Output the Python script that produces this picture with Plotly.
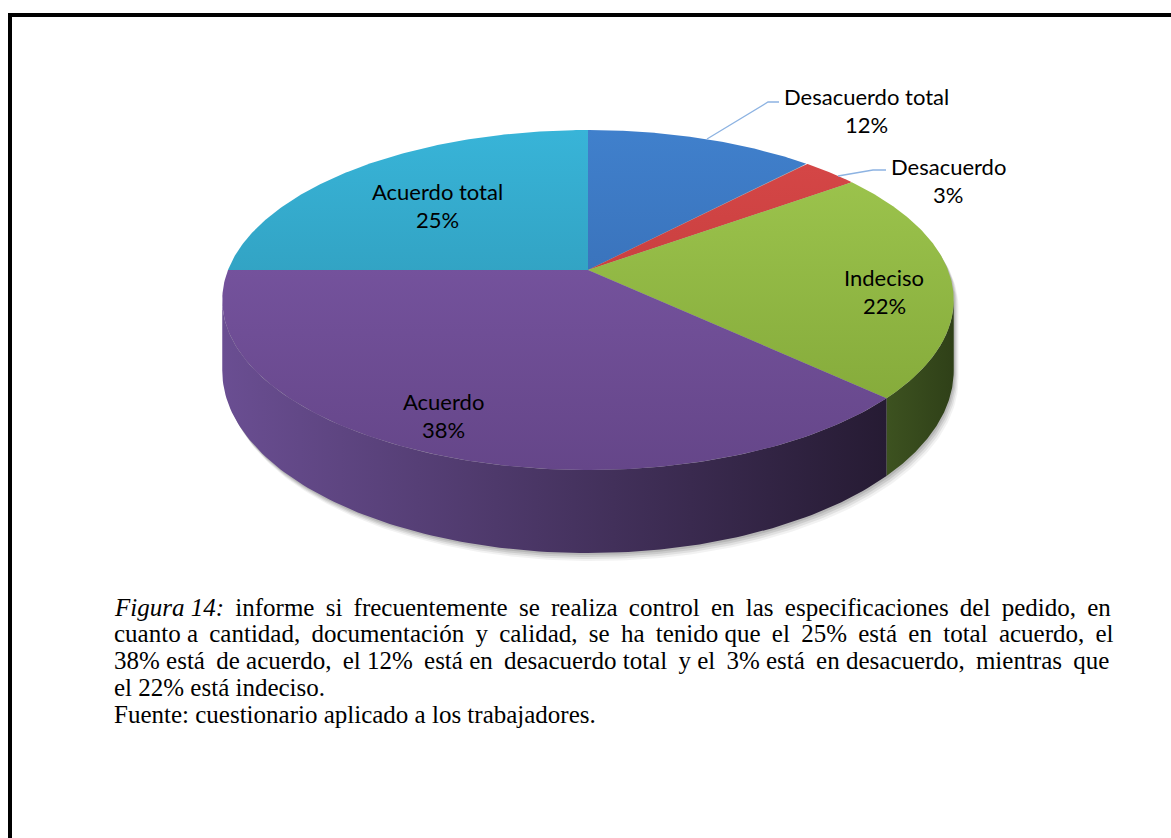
import numpy as np
import plotly.graph_objects as go

# Survey answers (percent), clockwise from 12 o'clock
categories = ["Desacuerdo total", "Desacuerdo", "Indeciso", "Acuerdo", "Acuerdo total"]
percentages = [12, 3, 22, 38, 25]

# Colours: top face gradient (back -> front) and side wall gradient (left -> right)
top_colors = [
    ("#4080cc", "#3262a6"),
    ("#d84848", "#b53535"),
    ("#a0c850", "#7fa436"),
    ("#7e5aa9", "#654689"),
    ("#38b4d8", "#2a8ca8"),
]
wall_colors = [
    ("#2e4f80", "#233c62"),
    ("#8a2c2a", "#6a2020"),
    ("#3d5220", "#2f4018"),
    ("#6a4e92", "#261b33"),
    ("#1f6e86", "#1a5a6e"),
]

caption_lines = [
    "<i>Figura 14:</i> informe si frecuentemente se realiza control en las especificaciones del pedido, en",
    "cuanto a cantidad, documentación y calidad, se ha tenido que el 25% está en total acuerdo, el",
    "38% está de acuerdo, el 12% está en desacuerdo total y el 3% está en desacuerdo, mientras que",
    "el 22% está indeciso.",
    "Fuente: cuestionario aplicado a los trabajadores.",
]
# number of word gaps widened by a thin space, to justify the paragraph lines
caption_extra = [12, 14, 9, 0, 0]

# Projection of the 3D pie (pixel-like coordinates, y grows downward)
CX, CY = 588.0, 270.0
RX, RY = 360.0, 164.7
PERSP = 0.1765
DEPTH = 68.4


def project(theta_deg, drop=0.0):
    t = np.radians(theta_deg)
    u, z = np.sin(t), np.cos(t)
    w = 1 + PERSP * z
    return CX + RX * u / w, CY - RY * z / w + drop / w


def justify(line, extra):
    parts = line.split(" ")
    gaps = len(parts) - 1
    if not extra or gaps <= 0:
        return line
    out = parts[0]
    for i in range(gaps):
        widen = (i + 1) * extra // gaps > i * extra // gaps
        out += " " + ("\u2009" if widen else "") + parts[i + 1]
    return out


# silhouette angles where the wall edge is vertical
side_lo = np.degrees(np.arccos(-PERSP))          # right side (~100 deg)
side_hi = 360 - side_lo                           # left side (~260 deg)

fig = go.Figure()

# soft drop shadow under the pie
back = np.linspace(side_hi, side_lo + 360, 200)
front = np.linspace(side_lo, side_hi, 200)
bx, by = project(back)
fx, fy = project(front, DEPTH)
sil_x = np.concatenate([bx, fx])
sil_y = np.concatenate([by, fy])
for off, alpha in [(8, 0.05), (6, 0.07), (4, 0.09), (2, 0.1)]:
    fig.add_trace(go.Scatter(
        x=sil_x + off * 0.6, y=sil_y + off, mode="lines", fill="toself",
        line=dict(width=0), fillcolor=f"rgba(0,0,0,{alpha})",
        hoverinfo="skip", showlegend=False))

bounds = np.concatenate([[0], np.cumsum(percentages)]) / sum(percentages) * 360

# side walls (visible front part only)
for i, cat in enumerate(categories):
    a0, a1 = max(bounds[i], side_lo), min(bounds[i + 1], side_hi)
    if a1 <= a0:
        continue
    ang = np.linspace(a0, a1, 120)
    tx, ty = project(ang)
    lx, ly = project(ang[::-1], DEPTH)
    xs = np.concatenate([tx, lx])
    ys = np.concatenate([ty, ly])
    c0, c1 = wall_colors[i]
    fig.add_trace(go.Scatter(
        x=xs, y=ys, mode="lines", fill="toself", line=dict(width=0),
        fillgradient=dict(type="horizontal", colorscale=[[0, c0], [1, c1]],
                          start=float(xs.min()), stop=float(xs.max())),
        hoverinfo="skip", showlegend=False))

# top faces
top_y, front_y = project(0.0)[1], project(180.0)[1]
for i, cat in enumerate(categories):
    ang = np.linspace(bounds[i], bounds[i + 1], 160)
    ax_, ay_ = project(ang)
    xs = np.concatenate([[CX], ax_, [CX]])
    ys = np.concatenate([[CY], ay_, [CY]])
    c0, c1 = top_colors[i]
    fig.add_trace(go.Scatter(
        x=xs, y=ys, mode="lines", fill="toself", line=dict(width=0),
        fillgradient=dict(type="vertical", colorscale=[[0, c0], [1, c1]],
                          start=float(top_y), stop=float(front_y)),
        name=cat, hoverinfo="name", showlegend=False))

# data labels (name line, percent line below)
label_pos = {
    "Desacuerdo total": (866, 96),
    "Desacuerdo": (948, 166),
    "Indeciso": (884, 277),
    "Acuerdo": (443, 401),
    "Acuerdo total": (437, 191),
}
label_font = dict(family="Lato", size=22, color="#000000")
for cat, val in zip(categories, percentages):
    lx, ly = label_pos[cat]
    fig.add_annotation(x=lx, y=ly, xref="x", yref="y", showarrow=False,
                       text=cat, font=label_font)
    fig.add_annotation(x=lx, y=ly + 28, xref="x", yref="y", showarrow=False,
                       text=f"{val}%", font=label_font)

# leader lines for the two outside labels
leader = dict(color="#8db3e2", width=1.3)
fig.add_trace(go.Scatter(x=[707, 768, 779], y=[139, 102, 102], mode="lines",
                         line=leader, hoverinfo="skip", showlegend=False))
fig.add_trace(go.Scatter(x=[838, 873, 886], y=[176, 170, 170], mode="lines",
                         line=leader, hoverinfo="skip", showlegend=False))

# caption
for j, (line, extra) in enumerate(zip(caption_lines, caption_extra)):
    fig.add_annotation(x=112, y=607 + j * 26.8, xref="x", yref="y", xanchor="left",
                       yanchor="middle", showarrow=False, text=justify(line, extra),
                       align="left",
                       font=dict(family="Liberation Serif", size=25, color="#000000"))

# outer frame
fig.add_shape(type="rect", xref="paper", yref="paper", x0=10 / 1171, x1=1.2,
              y0=-0.2, y1=1 - 15 / 838, line=dict(color="#000000", width=4))

fig.update_layout(
    width=1171, height=838, margin=dict(l=0, r=0, t=0, b=0),
    paper_bgcolor="#ffffff", plot_bgcolor="#ffffff",
    xaxis=dict(range=[0, 1171], visible=False, fixedrange=True),
    yaxis=dict(range=[838, 0], visible=False, fixedrange=True),
)

fig.write_html("out.html")
